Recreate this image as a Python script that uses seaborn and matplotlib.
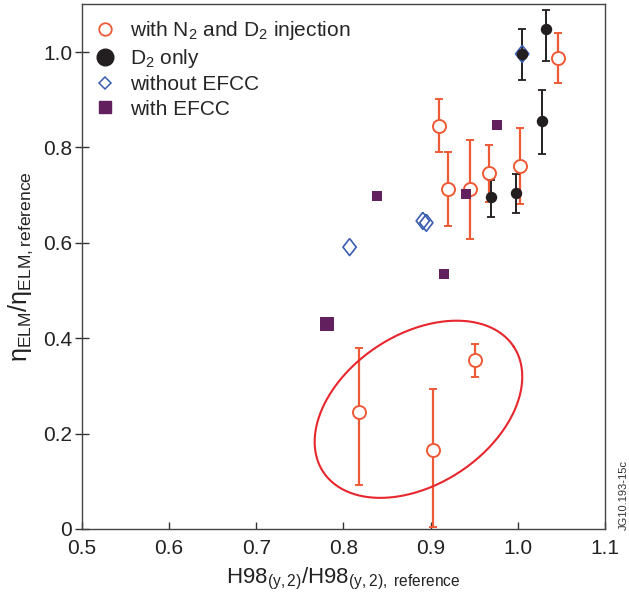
import numpy as np
import pandas as pd
import matplotlib
matplotlib.use("Agg")
import matplotlib.pyplot as plt
from matplotlib.lines import Line2D
import seaborn as sns

# with N2 and D2 injection (open orange circles)
n2_x = [0.909, 0.920, 0.945, 0.967, 1.002, 1.046, 0.818, 0.903, 0.951]
n2_y = [0.845, 0.713, 0.713, 0.746, 0.762, 0.988, 0.245, 0.166, 0.354]
n2_lo = [0.790, 0.636, 0.608, 0.685, 0.681, 0.936, 0.092, 0.005, 0.318]
n2_hi = [0.902, 0.791, 0.816, 0.806, 0.841, 1.040, 0.379, 0.294, 0.388]

# D2 only (filled black circles)
d2_x = [1.005, 1.032, 1.028, 0.969, 0.998]
d2_y = [0.996, 1.049, 0.855, 0.697, 0.705]
d2_lo = [0.942, 0.982, 0.787, 0.655, 0.663]
d2_hi = [1.048, 1.089, 0.921, 0.732, 0.744]

# without EFCC (open blue diamonds)
noefcc_x = [1.005, 0.807, 0.891, 0.895]
noefcc_y = [0.996, 0.591, 0.646, 0.642]

# with EFCC (purple squares), last one drawn larger
efcc_x = [0.839, 0.941, 0.915, 0.976, 0.781]
efcc_y = [0.698, 0.702, 0.535, 0.846, 0.429]
efcc_big = [False, False, False, False, True]

# ellipse around the low points (centre in data units, axes in pixels)
ell_cx, ell_cy = 0.886, 0.251
ell_a, ell_b, ell_ang = 114, 75, 33.3

orange = "#ef5a36"
black = "#231f20"
blue = "#3a5db0"
purple = "#63205f"
red = "#e8262d"

sns.set_style("ticks")
plt.rcParams["font.family"] = ["Liberation Sans", "DejaVu Sans"]
plt.rcParams["mathtext.fontset"] = "custom"
plt.rcParams["mathtext.rm"] = "Liberation Sans"
plt.rcParams["mathtext.it"] = "Liberation Sans:italic"
plt.rcParams["mathtext.bf"] = "Liberation Sans:bold"

# slightly tall diamond like the original symbol
tall_diamond = [(0, 1), (0.78, 0), (0, -1), (-0.78, 0), (0, 1)]

fig = plt.figure(figsize=(6.29, 5.97), dpi=100)
ax = fig.add_axes([82 / 629, 68 / 597, 523 / 629, 524.7 / 597])

n2 = pd.DataFrame({"x": n2_x, "y": n2_y, "lo": n2_lo, "hi": n2_hi})
d2 = pd.DataFrame({"x": d2_x, "y": d2_y, "lo": d2_lo, "hi": d2_hi})
ne = pd.DataFrame({"x": noefcc_x, "y": noefcc_y})
ef = pd.DataFrame({"x": efcc_x, "y": efcc_y, "big": efcc_big})

ax.errorbar(n2["x"], n2["y"], yerr=[n2["y"] - n2["lo"], n2["hi"] - n2["y"]],
            fmt="none", ecolor=orange, elinewidth=1.6, capsize=3, capthick=1.4, zorder=2)
ax.errorbar(d2["x"], d2["y"], yerr=[d2["y"] - d2["lo"], d2["hi"] - d2["y"]],
            fmt="none", ecolor=black, elinewidth=1.4, capsize=3, capthick=1.3, zorder=2)

sns.scatterplot(data=ne, x="x", y="y", ax=ax, marker=tall_diamond, s=150, facecolor="none",
                edgecolor=blue, linewidth=1.2, zorder=3)
sns.scatterplot(data=d2, x="x", y="y", ax=ax, marker="o", s=68, color=black,
                edgecolor=black, linewidth=0, zorder=4)
sns.scatterplot(data=n2, x="x", y="y", ax=ax, marker="o", s=88, facecolor="white",
                edgecolor=orange, linewidth=1.4, zorder=4)
sns.scatterplot(data=ef[~ef["big"]], x="x", y="y", ax=ax, marker="s", s=55,
                color=purple, edgecolor=purple, linewidth=0, zorder=4)
sns.scatterplot(data=ef[ef["big"]], x="x", y="y", ax=ax, marker="s", s=110,
                color=purple, edgecolor=purple, linewidth=0, zorder=4)

ax.set_xlim(0.5, 1.1)
ax.set_ylim(0, 1.1)

# ellipse: pixel-space shape converted to data units
sx = 523 / 0.6
sy = 524.7 / 1.1
t = np.linspace(0, 2 * np.pi, 300)
phi = np.deg2rad(ell_ang)
ex = ell_cx + (ell_a * np.cos(phi) * np.cos(t) - ell_b * np.sin(phi) * np.sin(t)) / sx
ey = ell_cy + (ell_a * np.sin(phi) * np.cos(t) + ell_b * np.cos(phi) * np.sin(t)) / sy
ax.plot(ex, ey, color=red, lw=1.5, zorder=3)

ax.set_xticks(np.arange(0.5, 1.11, 0.1))
ax.set_xticklabels(["0.5", "0.6", "0.7", "0.8", "0.9", "1.0", "1.1"])
ax.set_yticks([0, 0.2, 0.4, 0.6, 0.8, 1.0])
ax.set_yticklabels(["0", "0.2", "0.4", "0.6", "0.8", "1.0"])
ax.tick_params(axis="x", direction="in", length=5, width=1, labelsize=15, pad=7, colors="#333333", labelcolor="#222222")
ax.tick_params(axis="y", direction="inout", length=10, width=1, labelsize=15, pad=2, colors="#333333", labelcolor="#222222")
for sp in ax.spines.values():
    sp.set_visible(True)
    sp.set_color("#444444")
    sp.set_linewidth(1.0)

ax.set_xlabel(r"H98$_{\mathregular{(y,2)}}$/H98$_{\mathregular{(y,2),\ reference}}$",
              fontsize=16, color="#222222", labelpad=6)
ax.set_ylabel(r"$\mathregular{η_{ELM}/η_{ELM,reference}}$",
              fontsize=18, color="#222222", labelpad=6)

handles = [
    Line2D([], [], ls="none", marker="o", ms=9, mfc="white", mec=orange, mew=1.3),
    Line2D([], [], ls="none", marker="o", ms=12, mfc=black, mec=black),
    Line2D([], [], ls="none", marker="D", ms=6, mfc="none", mec=blue, mew=1.1),
    Line2D([], [], ls="none", marker="s", ms=9, mfc=purple, mec=purple),
]
labels = [r"with N$_\mathregular{2}$ and D$_\mathregular{2}$ injection",
          r"D$_\mathregular{2}$ only", "without EFCC", "with EFCC"]
ax.legend(handles, labels, loc="upper left", frameon=False, fontsize=15,
          handlelength=0.8, handletextpad=0.8, labelspacing=0.25,
          borderaxespad=0.3, bbox_to_anchor=(0.0, 1.0))

fig.text(624 / 629, 1 - 495 / 597, "JG10.193-15c", rotation=90, fontsize=8,
         ha="center", va="center", color="#333333")

fig.savefig("out.png", dpi=100)
